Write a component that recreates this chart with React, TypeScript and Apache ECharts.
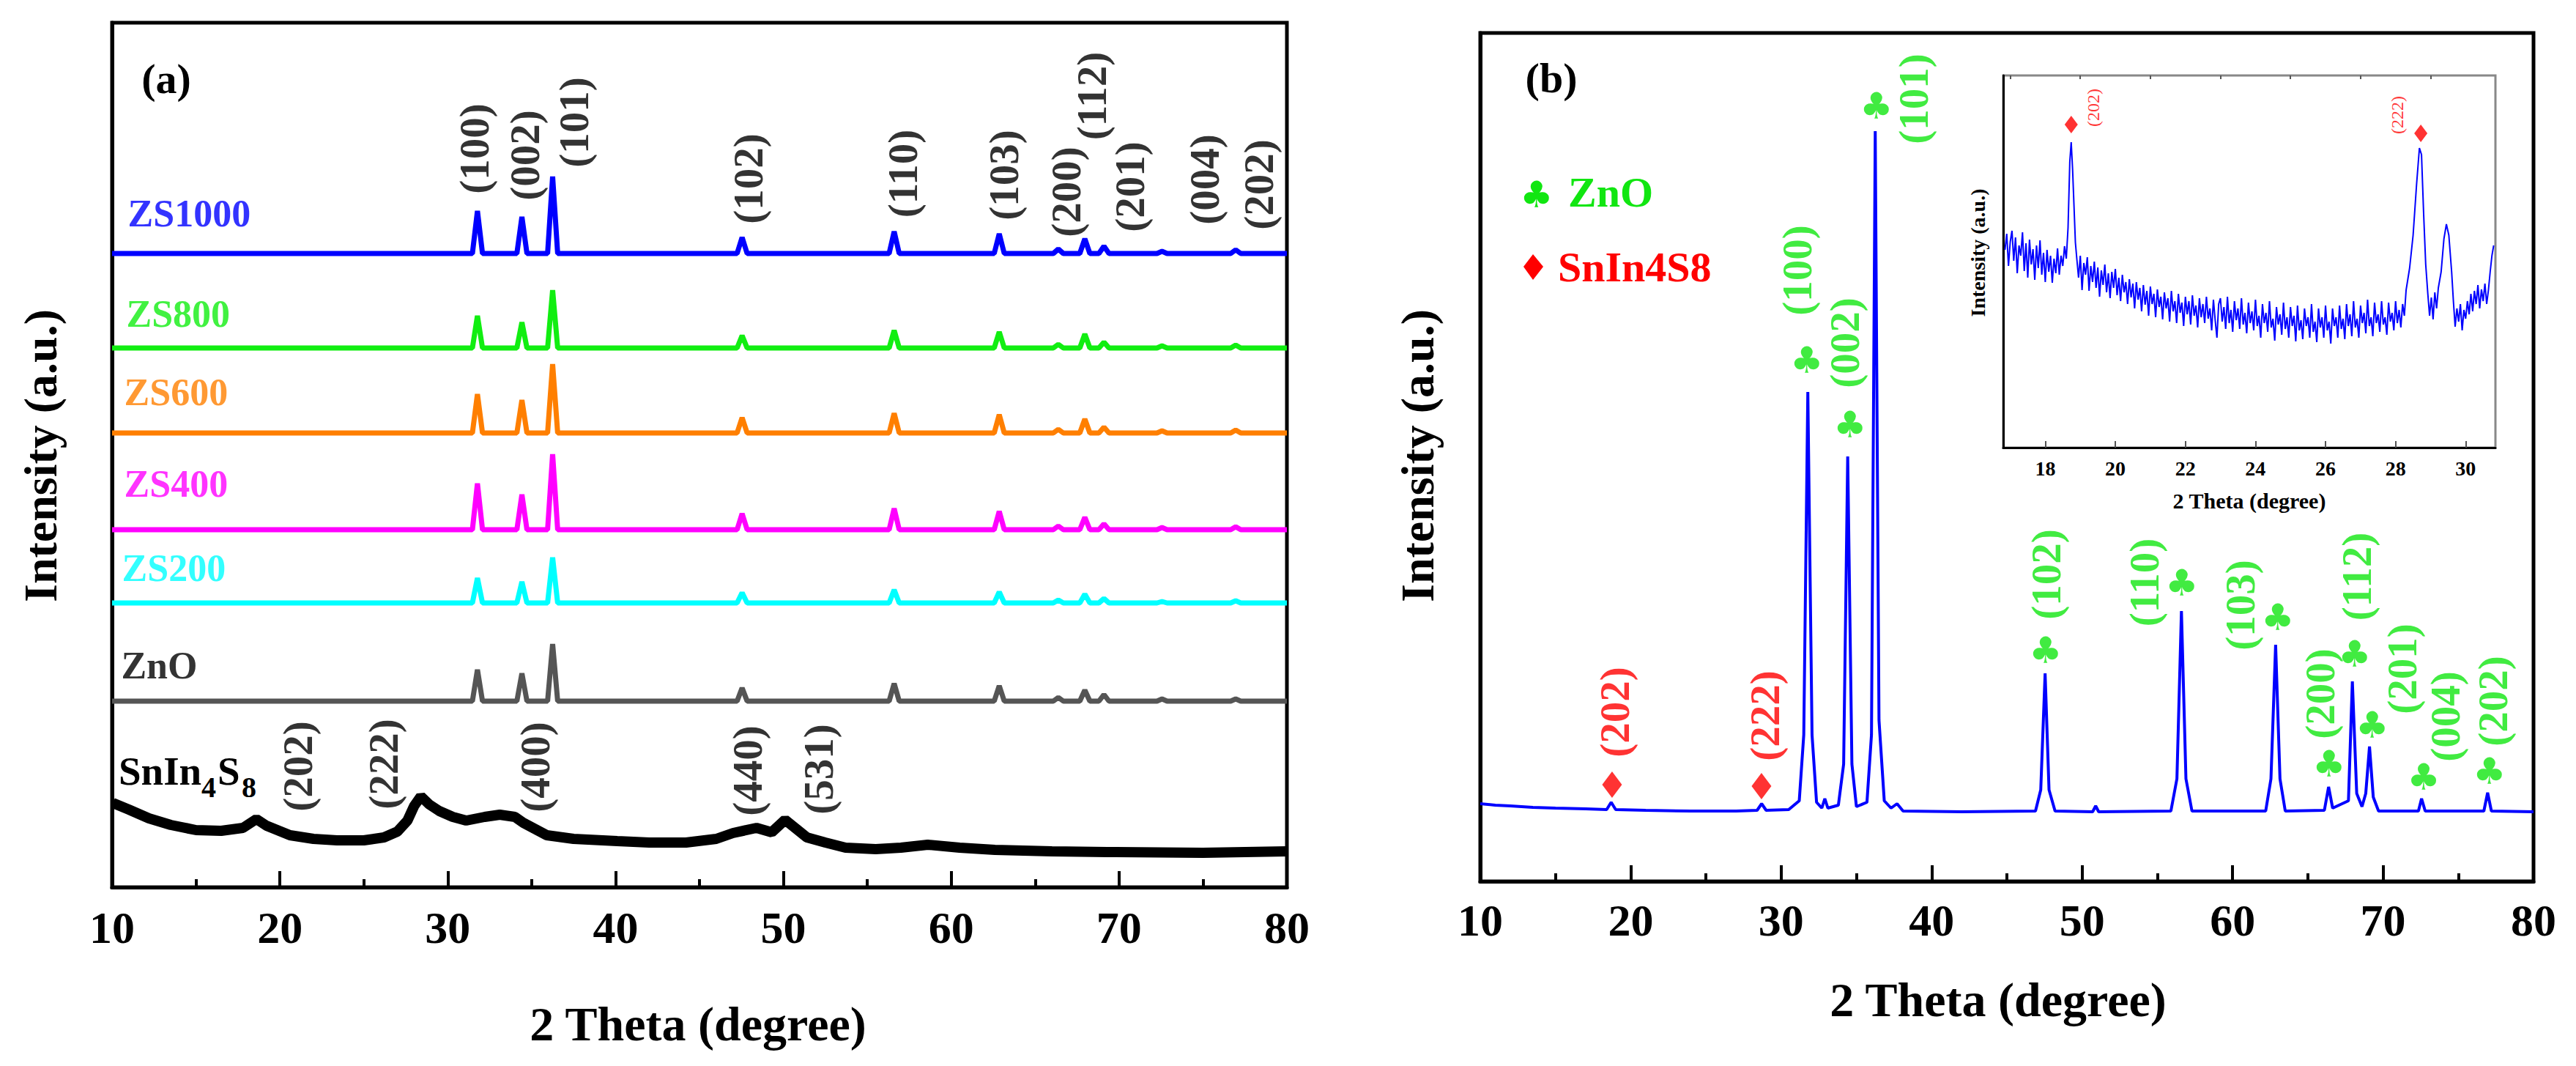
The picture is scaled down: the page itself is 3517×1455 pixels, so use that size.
import React, { useEffect, useRef } from 'react';
import * as echarts from 'echarts';

const FONT = '"Liberation Serif", "Times New Roman", serif';
const SYM_FONT = '"DejaVu Sans", sans-serif';
const GREEN = '#11e611';
const RED = '#ff0000';

// ---------- Panel (a) ----------
const znoPeaks = [31.77, 34.42, 36.25, 47.54, 56.6, 62.86, 66.38, 67.96, 69.1, 72.56, 76.95];
const znoHkl = ['(100)', '(002)', '(101)', '(102)', '(110)', '(103)', '(200)', '(112)', '(201)', '(004)', '(202)'];

const sampleNames = ['ZS1000', 'ZS800', 'ZS600', 'ZS400', 'ZS200', 'ZnO'];
const sampleColors = ['#0000ff', '#11ee11', '#ff7f00', '#ff00ff', '#00ffff', '#555555'];
const sampleLabelColors = ['#0000ff', '#11ee11', '#ff7f00', '#ff00ff', '#00ffff', '#000000'];
const sampleOffsets = [865, 736, 620, 488, 388, 254];
const zs1000Heights = [58, 50, 105, 22, 30, 27, 6, 20, 10, 3, 5];
const zs800Heights = [44, 35, 79, 17, 24, 22, 5, 19, 8, 3, 4];
const zs600Heights = [53, 45, 94, 21, 27, 25, 5, 19, 8, 3, 4];
const zs400Heights = [63, 48, 103, 22, 29, 25, 5, 17, 8, 3, 4];
const zs200Heights = [34, 29, 62, 14, 18, 15, 4, 12, 6, 2, 3];
const znoHeights = [43, 38, 78, 18, 24, 21, 5, 15, 9, 3, 3];
const sampleHeights = [zs1000Heights, zs800Heights, zs600Heights, zs400Heights, zs200Heights, znoHeights];

const snIn4S8Trace: [number, number][] = [
  [10.05, 115], [11, 106], [12.2, 94], [13.5, 85], [15, 78], [16.5, 77], [17.8, 81], [18.6, 93], [19.2, 84],
  [20.6, 71], [22, 66], [23.4, 64], [25, 64], [26.2, 68], [27, 76], [27.6, 91], [28, 111], [28.4, 124],
  [28.9, 113], [29.5, 104], [30.3, 96], [31.1, 91], [32.2, 96], [33.1, 99], [34, 96], [34.5, 88], [35.9, 71],
  [37.5, 66], [40.1, 63], [42, 61], [44.2, 61], [46, 66], [47, 74], [48.4, 81], [49.3, 75], [50.1, 92],
  [51.4, 68], [52.5, 61], [53.7, 54], [55.5, 52], [57, 54], [58.6, 58], [60.5, 54], [62.6, 51], [66, 49],
  [69.3, 48], [75, 47], [80, 49],
];

const hklLabelPosA: [number, number][] = [
  [31.6, 1008], [34.57, 999], [37.5, 1044], [47.92, 967], [57.09, 974], [63.15, 972],
  [66.86, 949], [68.39, 1080], [70.62, 956], [75.07, 966], [78.34, 959],
];
const snHkl = ['(202)', '(222)', '(400)', '(440)', '(531)'];
const snHklPosA: [number, number][] = [[21.08, 165], [26.19, 168], [35.22, 164], [47.84, 159], [52.07, 161]];
const sampleLabelPosA: [number, number][] = [[10.92, 920], [10.83, 783], [10.7, 676], [10.7, 551], [10.57, 436], [10.52, 303]];

// ---------- Panel (b) ----------
const traceB: [number, number][] = [
  [10, 106], [11, 104], [12, 103], [13.5, 101], [15, 100], [17, 99], [18.4, 98], [18.7, 108], [19.0, 98],
  [21, 97], [24, 96], [27, 96], [28.4, 97], [28.7, 106], [29.0, 97], [30.5, 98], [31.2, 110], [31.5, 200],
  [31.77, 668], [32.05, 200], [32.35, 108], [32.7, 100], [32.9, 113], [33.1, 100], [33.8, 104], [34.15, 160],
  [34.42, 580], [34.7, 160], [35.0, 102], [35.7, 108], [36.0, 200], [36.25, 1024], [36.5, 220], [36.85, 110],
  [37.3, 100], [37.7, 106], [38.1, 96], [42, 95], [46.9, 96], [47.25, 125], [47.54, 284], [47.8, 125],
  [48.2, 96], [50.7, 95], [50.9, 103], [51.1, 95], [55.9, 96], [56.3, 140], [56.6, 369], [56.9, 140],
  [57.3, 96], [62.2, 96], [62.55, 140], [62.86, 323], [63.15, 140], [63.5, 96], [66.1, 97], [66.38, 129],
  [66.65, 100], [67.7, 110], [67.96, 273], [68.25, 120], [68.6, 102], [68.85, 120], [69.1, 184], [69.35, 115],
  [69.7, 96], [72.35, 96], [72.56, 113], [72.8, 96], [76.7, 96], [76.95, 121], [77.2, 96], [80, 95],
];
const hklLabelPosB: [number, number][] = [
  [31.03, 834], [34.24, 735], [38.77, 1068], [47.58, 419], [54.15, 408], [60.48, 377],
  [65.79, 256], [68.22, 416], [71.24, 290], [74.11, 225], [77.32, 246],
];
const clubPosB: [number, number][] = [
  [31.71, 711], [34.58, 623], [36.33, 1058], [47.58, 315], [56.63, 407], [63.01, 360],
  [66.42, 160], [68.12, 310], [69.29, 213], [72.7, 142], [77.08, 150],
];
const snHklB = ['(202)', '(222)'];
const snLabelPosB: [number, number][] = [[18.91, 231], [28.89, 226]];
const diamondPosB: [number, number][] = [[18.76, 132], [28.69, 130]];

// ---------- Inset ----------
const insetTrace: [number, number][] = [
  [16.85, 270], [16.9, 292], [16.95, 248], [17.0, 281], [17.05, 296], [17.1, 255], [17.15, 287], [17.2, 238],
  [17.25, 276], [17.3, 262], [17.35, 294], [17.4, 241], [17.45, 279], [17.5, 232], [17.55, 284], [17.6, 250],
  [17.65, 271], [17.7, 229], [17.75, 276], [17.8, 245], [17.85, 283], [17.9, 236], [17.95, 266], [18.0, 226],
  [18.05, 270], [18.1, 240], [18.15, 262], [18.2, 225], [18.25, 258], [18.3, 238], [18.35, 272], [18.4, 236],
  [18.45, 262], [18.5, 248], [18.55, 275], [18.6, 258], [18.65, 300], [18.7, 390], [18.74, 417], [18.78, 380],
  [18.82, 330], [18.86, 280], [18.9, 258], [18.95, 232], [19.0, 262], [19.05, 215], [19.1, 252], [19.15, 236],
  [19.2, 260], [19.25, 214], [19.3, 248], [19.35, 226], [19.4, 254], [19.45, 218], [19.5, 246], [19.55, 206],
  [19.6, 242], [19.65, 222], [19.7, 250], [19.75, 212], [19.8, 238], [19.85, 204], [19.9, 240], [19.95, 218],
  [20.0, 244], [20.05, 208], [20.1, 232], [20.15, 200], [20.2, 236], [20.25, 212], [20.3, 226], [20.35, 196],
  [20.4, 230], [20.45, 205], [20.5, 224], [20.55, 190], [20.6, 226], [20.65, 202], [20.7, 218], [20.75, 186],
  [20.8, 222], [20.85, 195], [20.9, 214], [20.95, 180], [21.0, 220], [21.05, 196], [21.1, 210], [21.15, 178],
  [21.2, 216], [21.25, 192], [21.3, 206], [21.35, 175], [21.4, 212], [21.45, 190], [21.5, 204], [21.55, 172],
  [21.6, 214], [21.65, 186], [21.7, 200], [21.75, 170], [21.8, 210], [21.85, 184], [21.9, 198], [21.95, 166],
  [22.0, 206], [22.05, 182], [22.1, 200], [22.15, 168], [22.2, 208], [22.25, 180], [22.3, 194], [22.35, 164],
  [22.4, 204], [22.45, 178], [22.5, 196], [22.55, 170], [22.6, 206], [22.65, 176], [22.7, 190], [22.75, 160],
  [22.8, 202], [22.85, 174], [22.9, 150], [22.95, 196], [23.0, 204], [23.05, 172], [23.1, 192], [23.15, 162],
  [23.2, 206], [23.25, 170], [23.3, 188], [23.35, 158], [23.4, 200], [23.45, 174], [23.5, 190], [23.55, 162],
  [23.6, 204], [23.65, 168], [23.7, 184], [23.75, 156], [23.8, 198], [23.85, 170], [23.9, 186], [23.95, 160],
  [24.0, 202], [24.05, 166], [24.1, 180], [24.15, 150], [24.2, 196], [24.25, 170], [24.3, 184], [24.35, 158],
  [24.4, 200], [24.45, 164], [24.5, 176], [24.55, 146], [24.6, 192], [24.65, 168], [24.7, 182], [24.75, 154],
  [24.8, 198], [24.85, 162], [24.9, 178], [24.95, 150], [25.0, 192], [25.05, 166], [25.1, 180], [25.15, 145],
  [25.2, 194], [25.25, 160], [25.3, 174], [25.35, 148], [25.4, 190], [25.45, 166], [25.5, 178], [25.55, 150],
  [25.6, 196], [25.65, 158], [25.7, 172], [25.75, 144], [25.8, 190], [25.85, 164], [25.9, 178], [25.95, 150],
  [26.0, 194], [26.05, 160], [26.1, 172], [26.15, 142], [26.2, 190], [26.25, 166], [26.3, 178], [26.35, 150],
  [26.4, 194], [26.45, 162], [26.5, 176], [26.55, 148], [26.6, 196], [26.65, 166], [26.7, 182], [26.75, 152],
  [26.8, 200], [26.85, 164], [26.9, 176], [26.95, 150], [27.0, 194], [27.05, 170], [27.1, 184], [27.15, 156],
  [27.2, 202], [27.25, 166], [27.3, 178], [27.35, 152], [27.4, 198], [27.45, 170], [27.5, 182], [27.55, 158],
  [27.6, 200], [27.65, 168], [27.7, 178], [27.75, 154], [27.8, 198], [27.85, 172], [27.9, 184], [27.95, 160],
  [28.0, 200], [28.05, 170], [28.1, 188], [28.15, 164], [28.2, 196], [28.25, 180], [28.3, 215], [28.4, 245],
  [28.5, 290], [28.6, 360], [28.68, 409], [28.74, 400], [28.8, 320], [28.86, 250], [28.92, 210], [28.97, 180],
  [29.02, 205], [29.07, 175], [29.12, 212], [29.17, 190], [29.22, 218], [29.3, 240], [29.38, 285], [29.45, 305],
  [29.52, 290], [29.6, 240], [29.65, 200], [29.7, 165], [29.75, 190], [29.8, 172], [29.85, 196], [29.9, 160],
  [29.95, 188], [30.0, 176], [30.05, 200], [30.1, 182], [30.15, 210], [30.2, 186], [30.25, 214], [30.3, 196],
  [30.35, 222], [30.4, 190], [30.45, 216], [30.5, 200], [30.55, 224], [30.6, 196], [30.65, 215], [30.7, 240],
  [30.75, 262], [30.8, 276],
];
const insetTicksMajor = [18, 20, 22, 24, 26, 28, 30];
const insetTicksMinor = [17, 19, 21, 23, 25, 27, 29];
const insetDiamondPos: [number, number][] = [[18.74, 441], [28.72, 429]];
const insetHkl = ['(202)', '(222)'];
const insetLabelPos: [number, number][] = [[19.38, 464], [28.05, 454]];

function peakTrace(offset: number, heights: number[]): [number, number][] {
  const pts: [number, number][] = [[10, offset]];
  znoPeaks.forEach((p, i) => {
    pts.push([p - 0.3, offset], [p, offset + heights[i]], [p + 0.3, offset]);
  });
  pts.push([80, offset]);
  return pts;
}

function txt(text: string, x: number, y: number, size: number, o: any = {}) {
  return {
    type: 'text', x, y, rotation: o.rot || 0, silent: true, z: 100,
    style: {
      text, fill: o.color || '#000', fontSize: size, fontWeight: o.weight || 'bold',
      fontFamily: o.family || FONT, align: o.align || 'center', verticalAlign: 'middle',
    },
  };
}

function labelScatter(xi: number, yi: number, names: string[], pos: [number, number][], color: string, size: number, rotate: number, weight = 'bold') {
  return {
    type: 'scatter', xAxisIndex: xi, yAxisIndex: yi, silent: true, symbolSize: 1, z: 10,
    itemStyle: { color: 'rgba(0,0,0,0)' },
    data: names.map((n, i) => ({ name: n, value: pos[i] })),
    label: {
      show: true, position: 'inside', rotate, formatter: '{b}', fontSize: size,
      fontWeight: weight, fontFamily: FONT, color,
    },
  };
}

const mainXAxis = (gridIndex: number, margin: number) => ({
  type: 'value', gridIndex, min: 10, max: 80, interval: 10,
  axisLine: { show: true, lineStyle: { color: '#000', width: 5 } },
  axisTick: { show: true, inside: true, length: 22, lineStyle: { color: '#000', width: 4 } },
  minorTick: { show: true, splitNumber: 2, length: 11, lineStyle: { color: '#000', width: 4 } },
  axisLabel: { fontSize: 62, fontWeight: 'bold', fontFamily: FONT, color: '#000', margin },
  splitLine: { show: false },
});

const plainYAxis = (gridIndex: number, max: number, width: number) => ({
  type: 'value', gridIndex, min: 0, max,
  axisLine: { show: true, lineStyle: { color: '#000', width } },
  axisTick: { show: false }, axisLabel: { show: false }, splitLine: { show: false },
});

export default function App() {
  const ref = useRef<HTMLDivElement>(null);
  useEffect(() => {
    document.body.style.margin = '0';
    const chart = echarts.init(ref.current!, null, { renderer: 'svg' });

    const seriesA = sampleNames.map((n, i) => ({
      type: 'line', name: n, xAxisIndex: 0, yAxisIndex: 0, showSymbol: false, symbol: 'none',
      data: peakTrace(sampleOffsets[i], sampleHeights[i]),
      lineStyle: { color: sampleColors[i], width: 7 }, z: 3,
    }));

    const option: any = {
      animation: false,
      backgroundColor: '#ffffff',
      grid: [
        { left: 153, top: 31, width: 1604, height: 1180, show: true, borderColor: '#000', borderWidth: 5 },
        { left: 2021, top: 45, width: 1438, height: 1158, show: true, borderColor: '#000', borderWidth: 5 },
        { left: 2735, top: 103, width: 672, height: 508, show: true, borderColor: '#888', borderWidth: 3, backgroundColor: '#fff', z: 5 },
      ],
      xAxis: [
        mainXAxis(0, 24),
        mainXAxis(1, 22),
        {
          type: 'value', gridIndex: 2, min: 16.8, max: 30.85,
          axisLine: { show: true, lineStyle: { color: '#000', width: 3 } },
          axisTick: { show: true, inside: true, length: 9, customValues: insetTicksMajor, lineStyle: { color: '#555', width: 2 } },
          axisLabel: { customValues: insetTicksMajor, fontSize: 28, fontWeight: 'bold', fontFamily: FONT, color: '#000', margin: 14 },
          splitLine: { show: false }, z: 6,
        },
        {
          type: 'value', gridIndex: 2, min: 16.8, max: 30.85,
          axisLine: { show: false },
          axisTick: { show: true, inside: true, length: 5, customValues: insetTicksMinor, lineStyle: { color: '#555', width: 2 } },
          axisLabel: { show: false }, splitLine: { show: false }, z: 6,
        },
      ],
      yAxis: [plainYAxis(0, 1180, 5), plainYAxis(1, 1158, 5), { ...plainYAxis(2, 508, 3), z: 6 }],
      graphic: [
        txt('(a)', 227, 107, 58),
        txt('(b)', 2118, 106, 58),
        txt('Intensity (a.u.)', 55, 622, 64, { rot: Math.PI / 2 }),
        txt('2 Theta (degree)', 953, 1397, 66),
        txt('Intensity (a.u.)', 1935, 622, 64, { rot: Math.PI / 2 }),
        txt('2 Theta (degree)', 2728, 1364, 66),
        txt('Intensity (a.u.)', 2700, 345, 28, { rot: Math.PI / 2 }),
        txt('2 Theta (degree)', 3071, 683, 30),
        txt('SnIn', 162, 1052, 55, { align: 'left' }),
        txt('4', 275, 1074, 40, { align: 'left' }),
        txt('S', 297, 1052, 55, { align: 'left' }),
        txt('8', 330, 1074, 40, { align: 'left' }),
        txt('\u2663', 2098, 266, 50, { color: GREEN, family: SYM_FONT, weight: 'normal' }),
        txt('ZnO', 2141, 262, 58, { align: 'left', color: GREEN }),
        { type: 'polygon', z: 100, silent: true, shape: { points: [[2080, 364], [2093, 347], [2107, 364], [2093, 382]] }, style: { fill: RED } },
        txt('SnIn4S8', 2127, 364, 58, { align: 'left', color: RED }),
      ],
      series: [
        {
          type: 'line', name: 'SnIn4S8', xAxisIndex: 0, yAxisIndex: 0, showSymbol: false, symbol: 'none',
          data: snIn4S8Trace, lineStyle: { color: '#000', width: 14 }, z: 3,
        },
        ...seriesA,
        labelScatter(0, 0, znoHkl, hklLabelPosA, '#000', 57, 90),
        labelScatter(0, 0, snHkl, snHklPosA, '#000', 57, 90),
        {
          type: 'scatter', xAxisIndex: 0, yAxisIndex: 0, silent: true, symbolSize: 1, z: 10,
          itemStyle: { color: 'rgba(0,0,0,0)' },
          data: sampleNames.map((n, i) => ({ name: n, value: sampleLabelPosA[i], label: { color: sampleLabelColors[i] } })),
          label: { show: true, position: 'right', distance: 0, formatter: '{b}', fontSize: 52, fontWeight: 'bold', fontFamily: FONT },
        },
        // Panel (b)
        {
          type: 'line', name: 'ZS', xAxisIndex: 1, yAxisIndex: 1, showSymbol: false, symbol: 'none',
          data: traceB, lineStyle: { color: '#0000ff', width: 4 }, z: 3,
        },
        labelScatter(1, 1, znoHkl, hklLabelPosB, GREEN, 57, 90),
        labelScatter(1, 1, snHklB, snLabelPosB, RED, 57, 90),
        {
          type: 'scatter', xAxisIndex: 1, yAxisIndex: 1, silent: true, symbolSize: 1, z: 10,
          itemStyle: { color: 'rgba(0,0,0,0)' },
          data: clubPosB.map((p) => ({ value: p })),
          label: { show: true, position: 'inside', formatter: '\u2663', fontSize: 50, fontFamily: SYM_FONT, color: GREEN },
        },
        {
          type: 'scatter', xAxisIndex: 1, yAxisIndex: 1, silent: true, symbol: 'diamond', symbolSize: [27, 36], z: 10,
          itemStyle: { color: RED }, data: diamondPosB,
        },
        // Inset
        {
          type: 'line', name: 'inset', xAxisIndex: 2, yAxisIndex: 2, showSymbol: false, symbol: 'none',
          data: insetTrace, lineStyle: { color: '#0000ff', width: 2 }, z: 8,
        },
        {
          type: 'scatter', xAxisIndex: 2, yAxisIndex: 2, silent: true, symbol: 'diamond', symbolSize: [18, 24], z: 10,
          itemStyle: { color: RED }, data: insetDiamondPos,
        },
        labelScatter(2, 2, insetHkl, insetLabelPos, RED, 24, 90, 'normal'),
      ],
    };
    chart.setOption(option);
    return () => chart.dispose();
  }, []);
  return <div ref={ref} style={{ width: 3517, height: 1455, background: '#fff' }} />;
}
